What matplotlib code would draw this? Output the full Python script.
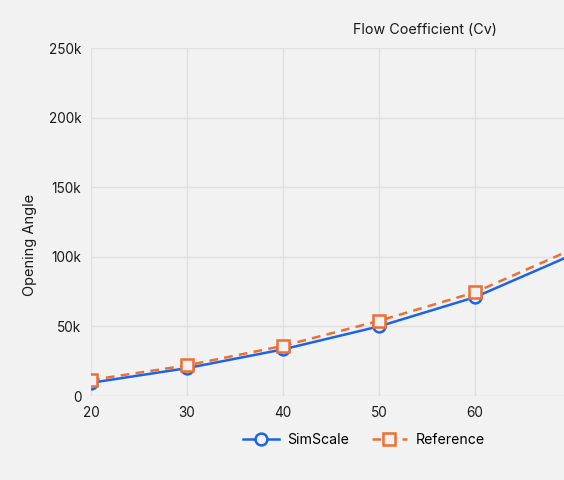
import matplotlib.pyplot as plt
import numpy as np
from matplotlib.legend_handler import HandlerLine2D

# dane
x = [20, 30, 40, 50, 60, 70]
simscale = [9500, 20000, 33500, 50000, 71000, 101000]
reference = [11500, 22000, 36000, 54000, 74500, 105000]
yticks = [0, 50000, 100000, 150000, 200000, 250000]
ytick_labels = ["0", "50k", "100k", "150k", "200k", "250k"]
xticks = [20, 30, 40, 50, 60]

bg = "#f2f2f2"
blue = "#1d63e8"
orange = "#ee6f31"

plt.rcParams["font.family"] = ["Inter", "DejaVu Sans"]


class EndMarker(HandlerLine2D):
    # marker na koncu linii w legendzie
    def get_xdata(self, legend, xdescent, ydescent, width, height, fontsize):
        xd = np.array([-xdescent, -xdescent + width])
        return xd, np.array([-xdescent + width])


fig = plt.figure(figsize=(5.64, 4.8), dpi=100, facecolor=bg)
ax = fig.add_axes([91 / 564, 1 - 396 / 480, 1 - 91 / 564, 348 / 480])
ax.set_facecolor(bg)

l1, = ax.plot(x, simscale, color=blue, lw=1.8, marker="o", ms=8.5,
              mfc=bg, mec=blue, mew=1.8, label="SimScale")
l2, = ax.plot(x, reference, color=orange, lw=1.8, ls=(0, (3.5, 2.5)), marker="s", ms=8.5,
              mfc=bg, mec=orange, mew=1.8, label="Reference")

ax.set_xlim(20, 20 + (564 - 91) / 9.6)
ax.set_ylim(0, 250000)
ax.set_xticks(xticks)
ax.set_yticks(yticks)
ax.set_yticklabels(ytick_labels)
ax.grid(True, color="#e0e0e0", lw=1)
ax.set_axisbelow(True)
for s in ax.spines.values():
    s.set_visible(False)
ax.tick_params(length=0, labelsize=9.8, colors="#1a1a1a", pad=7)
ax.set_ylabel("Opening Angle", fontsize=10.5, color="#1a1a1a")
ax.yaxis.set_label_coords((37 - 91) / 473, (396 - 245) / 348)

fig.text(425 / 564, 1 - 30 / 480, "Flow Coefficient (Cv)", ha="center", va="center",
         fontsize=10.3, color="#1a1a1a")

fig.legend(handles=[l1, l2], loc="center", bbox_to_anchor=(364 / 564, 1 - 440 / 480),
           ncol=2, frameon=False, fontsize=10.2, handlelength=2.5, handletextpad=0.6,
           columnspacing=1.6, handler_map={l1: EndMarker(), l2: EndMarker()})

plt.savefig("out.png", dpi=100, facecolor=bg)
